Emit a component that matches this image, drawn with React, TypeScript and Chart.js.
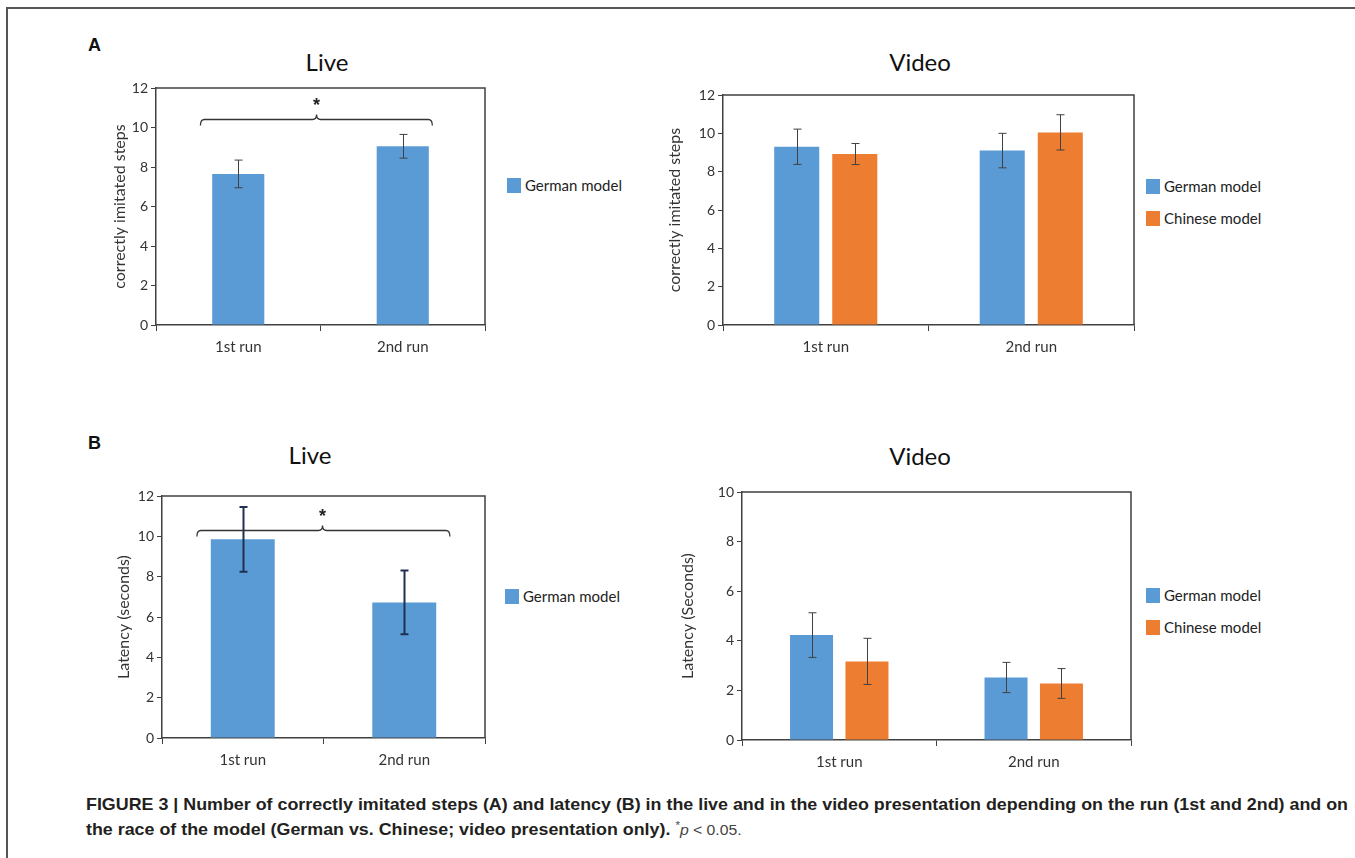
import React, { useEffect, useRef } from "react";
import { Chart, registerables } from "chart.js";

Chart.register(...registerables);

// ---------------- data ----------------
const RUNS = ["1st run", "2nd run"];
const SERIES_NAMES = ["German model", "Chinese model"];

// Panel A: correctly imitated steps
const liveStepsGerman = [7.65, 9.05];
const liveStepsGermanErr = [0.7, 0.6];
const videoStepsGerman = [9.3, 9.1];
const videoStepsGermanErr = [0.92, 0.9];
const videoStepsChinese = [8.92, 10.05];
const videoStepsChineseErr = [0.55, 0.92];

// Panel B: latency (seconds)
const liveLatencyGerman = [9.85, 6.72];
const liveLatencyGermanErr = [1.6, 1.58];
const videoLatencyGerman = [4.23, 2.52];
const videoLatencyGermanErr = [0.9, 0.61];
const videoLatencyChinese = [3.17, 2.28];
const videoLatencyChineseErr = [0.93, 0.6];

const STEPS_MAX = 12;
const LIVE_LATENCY_MAX = 12;
const VIDEO_LATENCY_MAX = 10;
const TICK_STEP = 2;

// ---------------- styles ----------------
const BLUE = "#5B9BD5";
const ORANGE = "#ED7D31";
const AXIS = "#404040";
const TEXT = "#333333";
const FONT = "Lato, 'Open Sans', sans-serif";

const errorBarPlugin = {
  id: "errorBars",
  afterDatasetsDraw(chart: any, _a: any, opts: any) {
    const ctx = chart.ctx;
    const y = chart.scales.y;
    ctx.save();
    ctx.strokeStyle = opts.color;
    ctx.lineWidth = opts.width;
    chart.data.datasets.forEach((ds: any, i: number) => {
      const meta = chart.getDatasetMeta(i);
      meta.data.forEach((bar: any, j: number) => {
        const v = ds.data[j];
        const e = ds.errors[j];
        const x = Math.round(bar.x) + 0.5;
        const yt = y.getPixelForValue(v + e);
        const yb = y.getPixelForValue(v - e);
        ctx.beginPath();
        ctx.moveTo(x, yt);
        ctx.lineTo(x, yb);
        ctx.moveTo(x - opts.cap, yt);
        ctx.lineTo(x + opts.cap, yt);
        ctx.moveTo(x - opts.cap, yb);
        ctx.lineTo(x + opts.cap, yb);
        ctx.stroke();
      });
    });
    ctx.restore();
  },
};

const framePlugin = {
  id: "frame",
  afterDraw(chart: any) {
    const { ctx, chartArea: a } = chart;
    ctx.save();
    ctx.strokeStyle = AXIS;
    ctx.lineWidth = 1.5;
    ctx.beginPath();
    ctx.moveTo(a.left, a.top);
    ctx.lineTo(a.right, a.top);
    ctx.lineTo(a.right, a.bottom);
    ctx.stroke();
    ctx.restore();
  },
};

const bracketPlugin = {
  id: "bracket",
  afterDraw(chart: any, _a: any, opts: any) {
    if (!opts || opts.y == null) return;
    const { ctx } = chart;
    const xs = chart.scales.x;
    const ys = chart.scales.y;
    const x0 = xs.getPixelForValue(opts.from);
    const x1 = xs.getPixelForValue(opts.to);
    const xm = xs.getPixelForValue(opts.star);
    const y = Math.round(ys.getPixelForValue(opts.y)) + 0.5;
    ctx.save();
    ctx.strokeStyle = "#333";
    ctx.lineWidth = 1.3;
    ctx.beginPath();
    ctx.moveTo(x0, y + 6);
    ctx.quadraticCurveTo(x0, y, x0 + 4, y);
    ctx.lineTo(xm - 4, y);
    ctx.quadraticCurveTo(xm, y, xm, y - 5);
    ctx.quadraticCurveTo(xm, y, xm + 4, y);
    ctx.lineTo(x1 - 4, y);
    ctx.quadraticCurveTo(x1, y, x1, y + 6);
    ctx.stroke();
    ctx.fillStyle = "#222";
    ctx.font = "bold 18px 'Liberation Sans', Arial, sans-serif";
    ctx.textAlign = "center";
    ctx.textBaseline = "middle";
    ctx.fillText("*", xm, y - 13);
    ctx.restore();
  },
};

type Series = { label: string; color: string; values: number[]; errors: number[] };
type PanelCfg = {
  canvas: { left: number; top: number; width: number; height: number };
  plot: { left: number; top: number; right: number; bottom: number };
  yMax: number;
  yTitle: string;
  series: Series[];
  catPct: number;
  barPct: number;
  labelPad: number;
  err: { color: string; width: number; cap: number };
  bracket?: { from: number; to: number; y: number; star: number };
};

function Panel({ cfg }: { cfg: PanelCfg }) {
  const ref = useRef<HTMLCanvasElement>(null);
  const c = cfg.canvas;
  const p = cfg.plot;
  useEffect(() => {
    const chart = new Chart(ref.current as HTMLCanvasElement, {
      type: "bar",
      data: {
        labels: RUNS,
        datasets: cfg.series.map((s) => ({
          label: s.label,
          data: s.values,
          errors: s.errors,
          backgroundColor: s.color,
          borderWidth: 0,
          categoryPercentage: cfg.catPct,
          barPercentage: cfg.barPct,
        })) as any,
      },
      options: {
        responsive: false,
        animation: false,
        events: [],
        layout: {
          padding: { left: 0, top: p.top - c.top, right: c.left + c.width - p.right, bottom: 0 },
        },
        plugins: {
          legend: { display: false },
          tooltip: { enabled: false },
          errorBars: cfg.err,
          bracket: cfg.bracket || {},
        } as any,
        scales: {
          x: {
            grid: { offset: true, drawOnChartArea: false, tickLength: 6, color: AXIS, lineWidth: 1 },
            border: { color: AXIS, width: 1.5 },
            ticks: { color: TEXT, font: { family: FONT, size: 15 }, padding: cfg.labelPad, maxRotation: 0 },
            afterFit: (s: any) => {
              s.height = c.top + c.height - p.bottom;
            },
          },
          y: {
            min: 0,
            max: cfg.yMax,
            ticks: { stepSize: TICK_STEP, color: TEXT, font: { family: FONT, size: 14 }, padding: 3 },
            grid: { drawOnChartArea: false, tickLength: 5, color: AXIS, lineWidth: 1 },
            border: { color: AXIS, width: 1.5 },
            title: { display: true, text: cfg.yTitle, color: TEXT, font: { family: FONT, size: 16 }, padding: 0 },
            afterFit: (s: any) => {
              s.width = p.left - c.left;
            },
          },
        },
      } as any,
      plugins: [errorBarPlugin, framePlugin, bracketPlugin],
    });
    return () => chart.destroy();
  }, []);
  return (
    <canvas
      ref={ref}
      width={c.width}
      height={c.height}
      style={{ position: "absolute", left: c.left, top: c.top, width: c.width, height: c.height }}
    />
  );
}

const panels: PanelCfg[] = [
  {
    canvas: { left: 110, top: 70, width: 381, height: 297 },
    plot: { left: 156, top: 88, right: 485, bottom: 325 },
    yMax: STEPS_MAX,
    yTitle: "correctly imitated steps",
    series: [{ label: SERIES_NAMES[0], color: BLUE, values: liveStepsGerman, errors: liveStepsGermanErr }],
    catPct: 0.8,
    barPct: 0.396,
    labelPad: 7,
    err: { color: "#404040", width: 1, cap: 4 },
    bracket: { from: -0.23, to: 1.18, y: 10.45, star: 0.476 },
  },
  {
    canvas: { left: 665, top: 70, width: 475, height: 297 },
    plot: { left: 723, top: 95, right: 1134, bottom: 325 },
    yMax: STEPS_MAX,
    yTitle: "correctly imitated steps",
    series: [
      { label: SERIES_NAMES[0], color: BLUE, values: videoStepsGerman, errors: videoStepsGermanErr },
      { label: SERIES_NAMES[1], color: ORANGE, values: videoStepsChinese, errors: videoStepsChineseErr },
    ],
    catPct: 0.565,
    barPct: 0.776,
    labelPad: 7,
    err: { color: "#404040", width: 1, cap: 4 },
  },
  {
    canvas: { left: 114, top: 478, width: 377, height: 302 },
    plot: { left: 162, top: 496, right: 485, bottom: 738 },
    yMax: LIVE_LATENCY_MAX,
    yTitle: "Latency (seconds)",
    series: [{ label: SERIES_NAMES[0], color: BLUE, values: liveLatencyGerman, errors: liveLatencyGermanErr }],
    catPct: 0.8,
    barPct: 0.495,
    labelPad: 7,
    err: { color: "#1F3050", width: 2, cap: 4 },
    bracket: { from: -0.284, to: 1.283, y: 10.31, star: 0.494 },
  },
  {
    canvas: { left: 678, top: 478, width: 459, height: 302 },
    plot: { left: 742, top: 492, right: 1131, bottom: 740 },
    yMax: VIDEO_LATENCY_MAX,
    yTitle: "Latency (Seconds)",
    series: [
      { label: SERIES_NAMES[0], color: BLUE, values: videoLatencyGerman, errors: videoLatencyGermanErr },
      { label: SERIES_NAMES[1], color: ORANGE, values: videoLatencyChinese, errors: videoLatencyChineseErr },
    ],
    catPct: 0.57,
    barPct: 0.776,
    labelPad: 7,
    err: { color: "#404040", width: 1, cap: 4 },
  },
];

const titles = [
  { text: "Live", x: 327, y: 62 },
  { text: "Video", x: 920, y: 62 },
  { text: "Live", x: 310, y: 455 },
  { text: "Video", x: 920, y: 456 },
];

const legends = [
  { x: 507, y: 177, items: [SERIES_NAMES[0]], colors: [BLUE] },
  { x: 1146, y: 178, items: [SERIES_NAMES[0], SERIES_NAMES[1]], colors: [BLUE, ORANGE] },
  { x: 505, y: 588, items: [SERIES_NAMES[0]], colors: [BLUE] },
  { x: 1146, y: 587, items: [SERIES_NAMES[0], SERIES_NAMES[1]], colors: [BLUE, ORANGE] },
];

const CAPTION_1 =
  "FIGURE 3 | Number of correctly imitated steps (A) and latency (B) in the live and in the video presentation depending on the run (1st and 2nd) and on";
const CAPTION_2 = "the race of the model (German vs. Chinese; video presentation only).";
const CAPTION_LEFT = 86;
const CAPTION_RIGHT = 1348;

export default function App() {
  const capRef = useRef<HTMLDivElement>(null);
  const line1Ref = useRef<HTMLSpanElement>(null);
  useEffect(() => {
    const w = line1Ref.current ? line1Ref.current.getBoundingClientRect().width : 0;
    if (w > 0 && capRef.current) {
      capRef.current.style.transform = `scaleX(${(CAPTION_RIGHT - CAPTION_LEFT) / w})`;
    }
  }, []);
  return (
    <div style={{ position: "absolute", left: 0, top: 0, width: 1355, height: 858, background: "#fff", overflow: "hidden" }}>
      <div style={{ position: "absolute", left: 7, top: 7, width: 1348, height: 2, background: "#555" }} />
      <div style={{ position: "absolute", left: 6, top: 7, width: 1.5, height: 851, background: "#555" }} />
      {[{ t: "A", y: 45 }, { t: "B", y: 443 }].map((l) => (
        <div
          key={l.t}
          style={{
            position: "absolute",
            left: 88,
            top: l.y,
            transform: "translateY(-50%)",
            font: "bold 18px 'Liberation Sans', Arial, sans-serif",
            color: "#111",
            lineHeight: 1,
          }}
        >
          {l.t}
        </div>
      ))}
      {titles.map((t, i) => (
        <div
          key={i}
          style={{
            position: "absolute",
            left: t.x,
            top: t.y,
            transform: "translate(-50%, -50%)",
            fontFamily: FONT,
            fontSize: 24,
            color: "#111",
            lineHeight: 1,
            whiteSpace: "nowrap",
          }}
        >
          {t.text}
        </div>
      ))}
      {legends.map((lg, i) => (
        <div key={i} style={{ position: "absolute", left: lg.x, top: lg.y }}>
          {lg.items.map((name, k) => (
            <div key={k} style={{ display: "flex", alignItems: "center", height: 16, marginBottom: 16 }}>
              <div style={{ width: 14, height: 15, background: lg.colors[k], marginRight: 4 }} />
              <span style={{ fontFamily: FONT, fontSize: 15, color: "#222", whiteSpace: "nowrap" }}>{name}</span>
            </div>
          ))}
        </div>
      ))}
      {panels.map((cfg, i) => (
        <Panel key={i} cfg={cfg} />
      ))}
      <div
        ref={capRef}
        style={{
          position: "absolute",
          left: CAPTION_LEFT,
          top: 795,
          transformOrigin: "0 0",
          font: "bold 17px 'Liberation Sans Narrow', 'Liberation Sans', Arial, sans-serif",
          color: "#231f20",
          lineHeight: "20px",
          whiteSpace: "nowrap",
        }}
      >
        <span ref={line1Ref}>{CAPTION_1}</span>
        <br />
        <span>{CAPTION_2} </span>
        <span style={{ fontWeight: 400, color: "#444", fontFamily: "'Liberation Sans', Arial, sans-serif", fontSize: 15 }}>
          <sup style={{ fontSize: 11 }}>*</sup>
          <i>p</i> &lt; 0.05.
        </span>
      </div>
    </div>
  );
}
